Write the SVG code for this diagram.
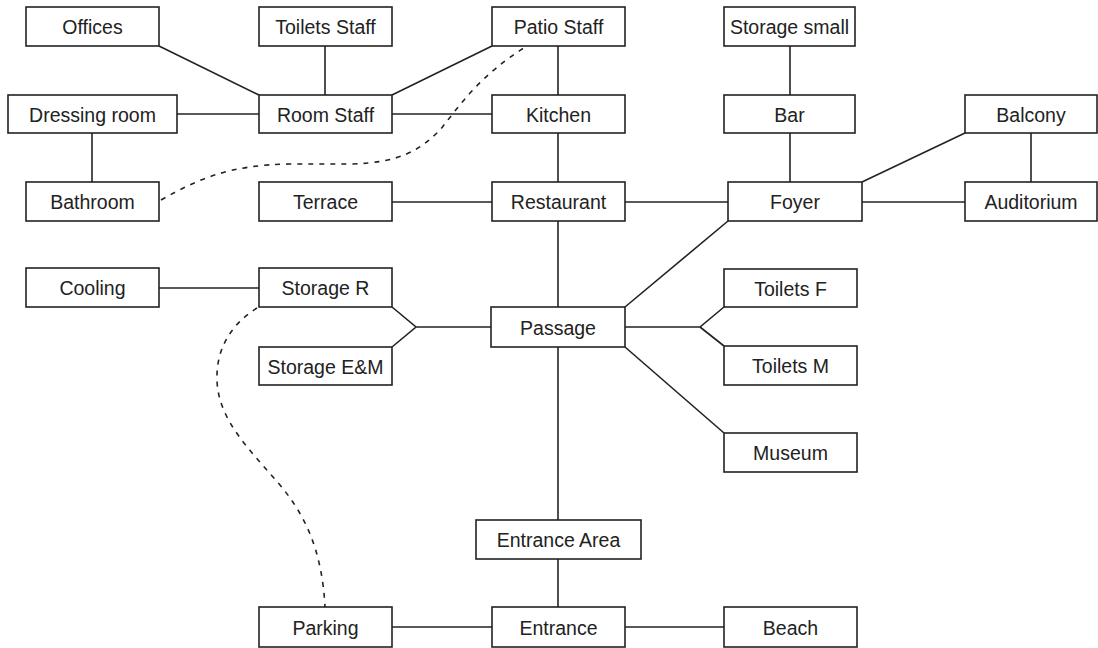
<svg xmlns="http://www.w3.org/2000/svg" width="1098" height="648" viewBox="0 0 1098 648">
<style>
.n rect{fill:#fff;stroke:#222;stroke-width:1.6}
.n text{font-family:"Liberation Sans",Arial,sans-serif;font-size:19.5px;fill:#222;text-anchor:middle}
.c path,.c line{fill:none;stroke:#222;stroke-width:1.6}
.c .d{stroke-dasharray:5 6}
</style>
<rect width="1098" height="648" fill="#fff"/>
<g class="c" id="connectors">
<line x1="159" y1="46" x2="259" y2="95"/>
<line x1="325" y1="46" x2="325" y2="95"/>
<line x1="492" y1="46" x2="392" y2="95"/>
<line x1="177" y1="114" x2="259" y2="114"/>
<line x1="392" y1="114" x2="492" y2="114"/>
<line x1="92" y1="133" x2="92" y2="182"/>
<line x1="558" y1="46" x2="558" y2="95"/>
<line x1="558" y1="133" x2="558" y2="182"/>
<line x1="392" y1="202" x2="492" y2="202"/>
<line x1="625" y1="202" x2="728" y2="202"/>
<line x1="790" y1="46" x2="790" y2="95"/>
<line x1="790" y1="133" x2="790" y2="182"/>
<line x1="862" y1="182" x2="965" y2="133"/>
<line x1="1031" y1="133" x2="1031" y2="182"/>
<line x1="862" y1="202" x2="965" y2="202"/>
<line x1="728" y1="221" x2="625" y2="307"/>
<line x1="558" y1="221" x2="558" y2="307"/>
<line x1="159" y1="288" x2="259" y2="288"/>
<path d="M392,307 L416,327 L392,347 M416,327 L491,327"/>
<path d="M625,327 L700,327 L724,307 M700,327 L724,346"/>
<line x1="625" y1="347" x2="724" y2="433"/>
<line x1="558" y1="347" x2="558" y2="520"/>
<line x1="558" y1="559" x2="558" y2="607"/>
<line x1="392" y1="627" x2="492" y2="627"/>
<line x1="625" y1="627" x2="724" y2="627"/>
<path class="d" d="M161,200 C200,178 230,165 290,164 L350,164 C400,163 420,150 440,130 C460,105 480,75 527,46"/>
<path class="d" d="M257,308 C230,325 216,350 217,380 C218,420 250,450 280,485 C305,515 322,550 325,607"/>
</g>
<g class="n" id="offices"><rect x="26" y="7" width="133" height="39"/><text x="92.5" y="34">Offices</text></g>
<g class="n" id="toilets-staff"><rect x="259" y="7" width="133" height="39"/><text x="325.5" y="34">Toilets Staff</text></g>
<g class="n" id="patio-staff"><rect x="492" y="7" width="133" height="39"/><text x="558.5" y="34">Patio Staff</text></g>
<g class="n" id="storage-small"><rect x="724" y="7" width="131" height="39"/><text x="789.5" y="34">Storage small</text></g>
<g class="n" id="dressing-room"><rect x="8" y="95" width="169" height="38"/><text x="92.5" y="121.5">Dressing room</text></g>
<g class="n" id="room-staff"><rect x="259" y="95" width="133" height="38"/><text x="325.5" y="121.5">Room Staff</text></g>
<g class="n" id="kitchen"><rect x="492" y="95" width="133" height="38"/><text x="558.5" y="121.5">Kitchen</text></g>
<g class="n" id="bar"><rect x="724" y="95" width="131" height="38"/><text x="789.5" y="121.5">Bar</text></g>
<g class="n" id="balcony"><rect x="965" y="95" width="132" height="38"/><text x="1031" y="121.5">Balcony</text></g>
<g class="n" id="bathroom"><rect x="26" y="182" width="133" height="39"/><text x="92.5" y="209">Bathroom</text></g>
<g class="n" id="terrace"><rect x="259" y="182" width="133" height="39"/><text x="325.5" y="209">Terrace</text></g>
<g class="n" id="restaurant"><rect x="492" y="182" width="133" height="39"/><text x="558.5" y="209">Restaurant</text></g>
<g class="n" id="foyer"><rect x="728" y="182" width="134" height="39"/><text x="795" y="209">Foyer</text></g>
<g class="n" id="auditorium"><rect x="965" y="182" width="132" height="39"/><text x="1031" y="209">Auditorium</text></g>
<g class="n" id="cooling"><rect x="26" y="268" width="133" height="39"/><text x="92.5" y="295">Cooling</text></g>
<g class="n" id="storage-r"><rect x="259" y="268" width="133" height="39"/><text x="325.5" y="295">Storage R</text></g>
<g class="n" id="toilets-f"><rect x="724" y="269" width="133" height="38"/><text x="790.5" y="295.5">Toilets F</text></g>
<g class="n" id="passage"><rect x="491" y="307" width="134" height="40"/><text x="558" y="334.5">Passage</text></g>
<g class="n" id="storage-em"><rect x="259" y="347" width="133" height="38"/><text x="325.5" y="373.5">Storage E&amp;M</text></g>
<g class="n" id="toilets-m"><rect x="724" y="346" width="133" height="39"/><text x="790.5" y="373">Toilets M</text></g>
<g class="n" id="museum"><rect x="724" y="433" width="133" height="39"/><text x="790.5" y="460">Museum</text></g>
<g class="n" id="entrance-area"><rect x="476" y="520" width="165" height="39"/><text x="558.5" y="547">Entrance Area</text></g>
<g class="n" id="parking"><rect x="259" y="607" width="133" height="40"/><text x="325.5" y="634.5">Parking</text></g>
<g class="n" id="entrance"><rect x="492" y="607" width="133" height="40"/><text x="558.5" y="634.5">Entrance</text></g>
<g class="n" id="beach"><rect x="724" y="607" width="133" height="40"/><text x="790.5" y="634.5">Beach</text></g>
</svg>
